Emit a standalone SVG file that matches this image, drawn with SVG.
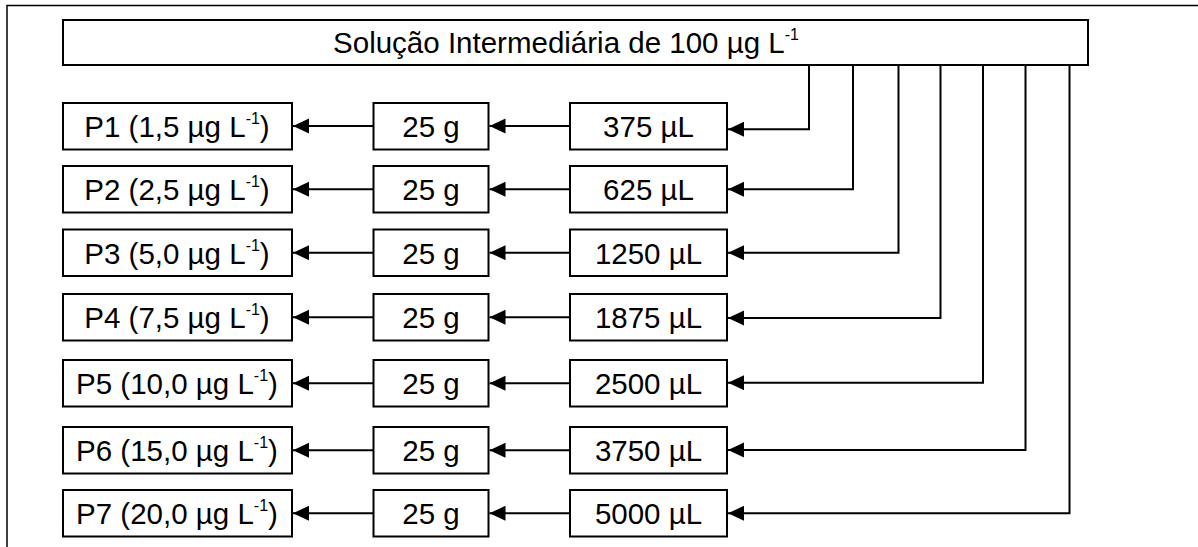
<svg xmlns="http://www.w3.org/2000/svg" width="1198" height="547" viewBox="0 0 1198 547">
<style>
.box{fill:#fff;stroke:#000;stroke-width:2}
.t{font-family:"Liberation Sans",Arial,sans-serif;font-size:29.5px;fill:#000;text-anchor:middle}
.sup{font-size:16px}
.c{fill:none;stroke:#000;stroke-width:2}
.frame{fill:none;stroke:#000;stroke-width:1.5}
</style>
<defs>
<marker id="ah" markerUnits="userSpaceOnUse" markerWidth="17" markerHeight="16" refX="16" refY="7.5" orient="auto">
<path d="M0,0 L16,7.5 L0,15 z" fill="#000"/>
</marker>
</defs>
<rect width="1198" height="547" fill="#fff"/>
<path class="frame" d="M7,547 V5.5 H1198"/>
<g id="top">
<rect class="box" x="63" y="20" width="1025" height="45"/>
<text class="t" x="566" y="53">Solução Intermediária de 100 µg L<tspan class="sup" dy="-13">-1</tspan></text>
</g>
<g id="p1"><rect class="box" x="63" y="103" width="229" height="46.5"/><text class="t" x="177" y="137">P1 (1,5 µg L<tspan class="sup" dy="-13">-1</tspan><tspan dy="13">)</tspan></text></g>
<g id="p2"><rect class="box" x="63" y="166" width="229" height="46.5"/><text class="t" x="177" y="200">P2 (2,5 µg L<tspan class="sup" dy="-13">-1</tspan><tspan dy="13">)</tspan></text></g>
<g id="p3"><rect class="box" x="63" y="229.5" width="229" height="46.5"/><text class="t" x="177" y="263.5">P3 (5,0 µg L<tspan class="sup" dy="-13">-1</tspan><tspan dy="13">)</tspan></text></g>
<g id="p4"><rect class="box" x="63" y="294" width="229" height="46.5"/><text class="t" x="177" y="328">P4 (7,5 µg L<tspan class="sup" dy="-13">-1</tspan><tspan dy="13">)</tspan></text></g>
<g id="p5"><rect class="box" x="63" y="360" width="229" height="46.5"/><text class="t" x="177" y="394">P5 (10,0 µg L<tspan class="sup" dy="-13">-1</tspan><tspan dy="13">)</tspan></text></g>
<g id="p6"><rect class="box" x="63" y="427" width="229" height="46.5"/><text class="t" x="177" y="461">P6 (15,0 µg L<tspan class="sup" dy="-13">-1</tspan><tspan dy="13">)</tspan></text></g>
<g id="p7"><rect class="box" x="63" y="490" width="229" height="46.5"/><text class="t" x="177" y="524">P7 (20,0 µg L<tspan class="sup" dy="-13">-1</tspan><tspan dy="13">)</tspan></text></g>

<g id="m1"><rect class="box" x="373.5" y="103" width="115" height="46.5"/><text class="t" x="431" y="137">25 g</text></g>
<g id="m2"><rect class="box" x="373.5" y="166" width="115" height="46.5"/><text class="t" x="431" y="200">25 g</text></g>
<g id="m3"><rect class="box" x="373.5" y="229.5" width="115" height="46.5"/><text class="t" x="431" y="263.5">25 g</text></g>
<g id="m4"><rect class="box" x="373.5" y="294" width="115" height="46.5"/><text class="t" x="431" y="328">25 g</text></g>
<g id="m5"><rect class="box" x="373.5" y="360" width="115" height="46.5"/><text class="t" x="431" y="394">25 g</text></g>
<g id="m6"><rect class="box" x="373.5" y="427" width="115" height="46.5"/><text class="t" x="431" y="461">25 g</text></g>
<g id="m7"><rect class="box" x="373.5" y="490" width="115" height="46.5"/><text class="t" x="431" y="524">25 g</text></g>

<g id="v1"><rect class="box" x="570" y="103" width="157" height="46.5"/><text class="t" x="648.5" y="137">375 µL</text></g>
<g id="v2"><rect class="box" x="570" y="166" width="157" height="46.5"/><text class="t" x="648.5" y="200">625 µL</text></g>
<g id="v3"><rect class="box" x="570" y="229.5" width="157" height="46.5"/><text class="t" x="648.5" y="263.5">1250 µL</text></g>
<g id="v4"><rect class="box" x="570" y="294" width="157" height="46.5"/><text class="t" x="648.5" y="328">1875 µL</text></g>
<g id="v5"><rect class="box" x="570" y="360" width="157" height="46.5"/><text class="t" x="648.5" y="394">2500 µL</text></g>
<g id="v6"><rect class="box" x="570" y="427" width="157" height="46.5"/><text class="t" x="648.5" y="461">3750 µL</text></g>
<g id="v7"><rect class="box" x="570" y="490" width="157" height="46.5"/><text class="t" x="648.5" y="524">5000 µL</text></g>

<g id="connectors">
<path class="c" marker-end="url(#ah)" d="M373.5,126 H293"/>
<path class="c" marker-end="url(#ah)" d="M373.5,189.3 H293"/>
<path class="c" marker-end="url(#ah)" d="M373.5,252.7 H293"/>
<path class="c" marker-end="url(#ah)" d="M373.5,317.3 H293"/>
<path class="c" marker-end="url(#ah)" d="M373.5,383.3 H293"/>
<path class="c" marker-end="url(#ah)" d="M373.5,450.2 H293"/>
<path class="c" marker-end="url(#ah)" d="M373.5,513.3 H293"/>

<path class="c" marker-end="url(#ah)" d="M570,126 H489.5"/>
<path class="c" marker-end="url(#ah)" d="M570,189.3 H489.5"/>
<path class="c" marker-end="url(#ah)" d="M570,252.7 H489.5"/>
<path class="c" marker-end="url(#ah)" d="M570,317.3 H489.5"/>
<path class="c" marker-end="url(#ah)" d="M570,383.3 H489.5"/>
<path class="c" marker-end="url(#ah)" d="M570,450.2 H489.5"/>
<path class="c" marker-end="url(#ah)" d="M570,513.3 H489.5"/>

<path class="c" marker-end="url(#ah)" d="M809,65 V129.3 H728"/>
<path class="c" marker-end="url(#ah)" d="M853,65 V189.3 H728"/>
<path class="c" marker-end="url(#ah)" d="M898.5,65 V252.7 H728"/>
<path class="c" marker-end="url(#ah)" d="M940.5,65 V318 H728"/>
<path class="c" marker-end="url(#ah)" d="M983,65 V382.7 H728"/>
<path class="c" marker-end="url(#ah)" d="M1025.5,65 V450 H728"/>
<path class="c" marker-end="url(#ah)" d="M1069.5,65 V513.3 H728"/>
</g>
</svg>
